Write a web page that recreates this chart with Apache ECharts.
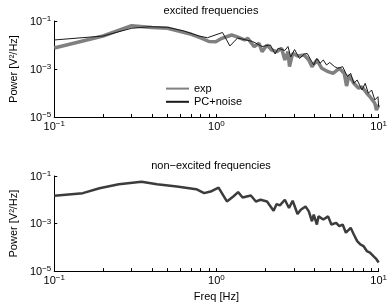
<!DOCTYPE html>
<html><head><meta charset="utf-8">
<script src="https://cdn.jsdelivr.net/npm/echarts@6/dist/echarts.min.js"></script>
<style>html,body{margin:0;padding:0;background:#fff}#c{width:390px;height:303px}</style>
</head><body><div id="c"></div>
<script>
const topTitle = 'excited frequencies';
const bottomTitle = 'non\u2212excited frequencies';
const yName = 'Power [V\u00B2/Hz]';
const xName = 'Freq [Hz]';
const legendNames = ['exp', 'PC+noise'];
const xLabelValues = [0.1, 1, 10];
const xTickValues = [0.1,0.2,0.3,0.4,0.5,0.6,0.7,0.8,0.9,1,2,3,4,5,6,7,8,9,10];
const yLabelValues = [1e-5, 1e-3, 1e-1];

// top: excited frequencies
const expFreq = [0.1,0.2,0.3,0.4,0.5,0.6,0.7,0.8,0.9,0.99,1.08,1.24,1.33,1.49,1.56,1.71,1.83,1.91,2.05,2.19,2.35,2.52,2.64,2.76,2.82,2.95,3.16,3.47,3.71,3.88,4.16,4.46,4.88,5.23,5.72,6.13,6.34,6.57,7.03,7.53,7.89,8.45,8.84,9.47,9.69,10];
const expPower = [7.5e-3,2.37e-2,6.4e-2,5.36e-2,4.97e-2,3.65e-2,2.79e-2,1.96e-2,1.40e-2,1.37e-2,1.90e-2,2.61e-2,2.22e-2,1.62e-2,1.90e-2,8.5e-3,1.18e-2,5.26e-3,1.0e-2,6.19e-3,5.26e-3,7.29e-3,2.37e-3,5.26e-3,1.25e-3,4.51e-3,3.48e-3,3.83e-3,2.37e-3,1.25e-3,2.37e-3,1.07e-3,7.72e-4,6.62e-4,1.07e-3,6.62e-4,1.96e-4,5.62e-4,2.53e-4,1.57e-4,1.83e-4,9.7e-5,7.0e-5,3.72e-5,1.96e-5,3.16e-5];
const pcFreq = [0.1,0.2,0.3,0.39,0.5,0.63,0.78,0.88,1.09,1.21,1.35,1.67,1.91,2.15,2.30,2.40,2.64,2.76,2.87,3.03,3.25,3.48,3.63,3.79,3.98,4.16,4.35,4.56,4.77,4.99,5.35,5.60,6.00,6.42,6.72,7.03,7.37,7.89,8.26,8.64,9.05,9.47,9.90,10];
const pcPower = [1.62e-2,2.37e-2,4.97e-2,5.79e-2,5.46e-2,3.83e-2,2.37e-2,2.01e-2,3.32e-2,9.1e-3,1.96e-2,1.40e-2,8.66e-3,1.0e-2,4.22e-3,7.29e-3,5.9e-3,8.66e-3,3.16e-3,6.49e-3,2.74e-3,4.22e-3,4.42e-3,2.61e-3,1.47e-3,2.79e-3,1.73e-3,2.37e-3,1.47e-3,1.87e-3,1.25e-3,1.07e-3,1.25e-3,4.78e-4,6.62e-4,2.53e-4,3.48e-4,1.33e-4,2.53e-4,9.7e-5,1.33e-4,5.13e-5,7.0e-5,2.69e-5];

// bottom: non-excited frequencies
const nonFreq = [0.1,0.15,0.19,0.25,0.345,0.43,0.57,0.75,0.84,0.92,1.03,1.16,1.27,1.36,1.45,1.63,1.75,1.87,2.05,2.25,2.35,2.46,2.64,2.80,2.95,3.16,3.31,3.54,3.71,3.88,3.98,4.16,4.26,4.56,4.88,5.11,5.47,5.72,6.00,6.28,6.72,7.03,7.37,7.71,8.06,8.45,8.84,9.25,9.69,10];
const nonPower = [1.47e-2,1.90e-2,3.07e-2,4.51e-2,5.79e-2,4.51e-2,3.58e-2,2.79e-2,1.90e-2,2.22e-2,3.26e-2,8.5e-3,1.37e-2,2.09e-2,1.25e-2,1.51e-2,8.5e-3,1.0e-2,8.5e-3,3.48e-3,6.62e-3,5.79e-3,1.0e-2,4.51e-3,9.1e-3,2.53e-3,3.83e-3,5.26e-3,3.26e-3,1.25e-3,2.37e-3,9.1e-4,2.01e-3,1.47e-3,2.01e-3,9.1e-4,1.07e-3,7.72e-4,9.1e-4,4.1e-4,6.62e-4,3.48e-4,1.83e-4,1.33e-4,1.13e-4,7.0e-5,6.0e-5,4.34e-5,3.16e-5,2.3e-5];

const FONT = 'Liberation Sans';
const pairs = (xs, ys) => xs.map((x, i) => [x, ys[i]]);
const powLabel = v => {
  const e = Math.round(Math.log10(v));
  return '{b|10}{s|' + (e < 0 ? '\u2212' + (-e) : e) + '}';
};
const rich = {
  b: { fontSize: 11, fontFamily: FONT, color: '#000', lineHeight: 12, verticalAlign: 'bottom' },
  s: { fontSize: 8, fontFamily: FONT, color: '#000', lineHeight: 8, padding: [0, 0, 8, 0], verticalAlign: 'top' }
};

function xAxis(gi, withName) {
  return {
    type: 'log', logBase: 10, gridIndex: gi, min: 0.1, max: 10,
    axisLine: { show: true, lineStyle: { color: '#000', width: 1 } },
    axisTick: { show: true, inside: true, length: 3, customValues: xTickValues, lineStyle: { color: '#000' } },
    minorTick: { show: false },
    splitLine: { show: false },
    axisLabel: { customValues: xLabelValues, formatter: powLabel, rich: rich, margin: 3 },
    name: withName ? xName : '', nameLocation: 'middle', nameGap: 18,
    nameTextStyle: { fontSize: 11, fontFamily: FONT, color: '#000' }
  };
}
function yAxis(gi) {
  return {
    type: 'log', logBase: 10, gridIndex: gi, min: 1e-5, max: 1e-1,
    axisLine: { show: true, lineStyle: { color: '#000', width: 1 } },
    axisTick: { show: true, inside: true, length: 3, customValues: yLabelValues, lineStyle: { color: '#000' } },
    minorTick: { show: false },
    splitLine: { show: false },
    axisLabel: { customValues: yLabelValues, formatter: powLabel, rich: rich, margin: 3, align: 'right' },
    name: yName, nameLocation: 'middle', nameGap: 26,
    nameTextStyle: { fontSize: 11, fontFamily: FONT, color: '#000' }
  };
}

const chart = echarts.init(document.getElementById('c'));
chart.setOption({
  animation: false,
  backgroundColor: '#fff',
  textStyle: { fontFamily: FONT },
  title: [
    { text: topTitle, left: 211, top: 5, textAlign: 'center', padding: 0,
      textStyle: { fontSize: 11, fontWeight: 'normal', fontFamily: FONT, color: '#000' } },
    { text: bottomTitle, left: 211, top: 160, textAlign: 'center', padding: 0,
      textStyle: { fontSize: 11, fontWeight: 'normal', fontFamily: FONT, color: '#000' } }
  ],
  legend: {
    data: legendNames, orient: 'vertical', left: 165, top: 83, padding: 0,
    itemWidth: 23, itemHeight: 14, itemGap: 2,
    itemStyle: { opacity: 0 },
    textStyle: { fontSize: 11, fontFamily: FONT, color: '#000' }
  },
  grid: [
    { left: 43, top: 21, width: 336, height: 96 },
    { left: 43, top: 176, width: 336, height: 96 }
  ],
  xAxis: [xAxis(0, false), xAxis(1, true)],
  yAxis: [yAxis(0), yAxis(1)],
  series: [
    { name: legendNames[0], type: 'line', xAxisIndex: 0, yAxisIndex: 0, data: pairs(expFreq, expPower),
      showSymbol: false, symbol: 'none', lineStyle: { color: '#808080', width: 3.5 }, itemStyle: { color: '#808080' } },
    { name: legendNames[1], type: 'line', xAxisIndex: 0, yAxisIndex: 0, data: pairs(pcFreq, pcPower),
      showSymbol: false, symbol: 'none', lineStyle: { color: '#1a1a1a', width: 1 }, itemStyle: { color: '#1a1a1a' } },
    { name: 'non-excited', type: 'line', xAxisIndex: 1, yAxisIndex: 1, data: pairs(nonFreq, nonPower),
      showSymbol: false, symbol: 'none', lineStyle: { color: '#3c3c3c', width: 2.5 }, itemStyle: { color: '#3c3c3c' } }
  ]
});
</script></body></html>
